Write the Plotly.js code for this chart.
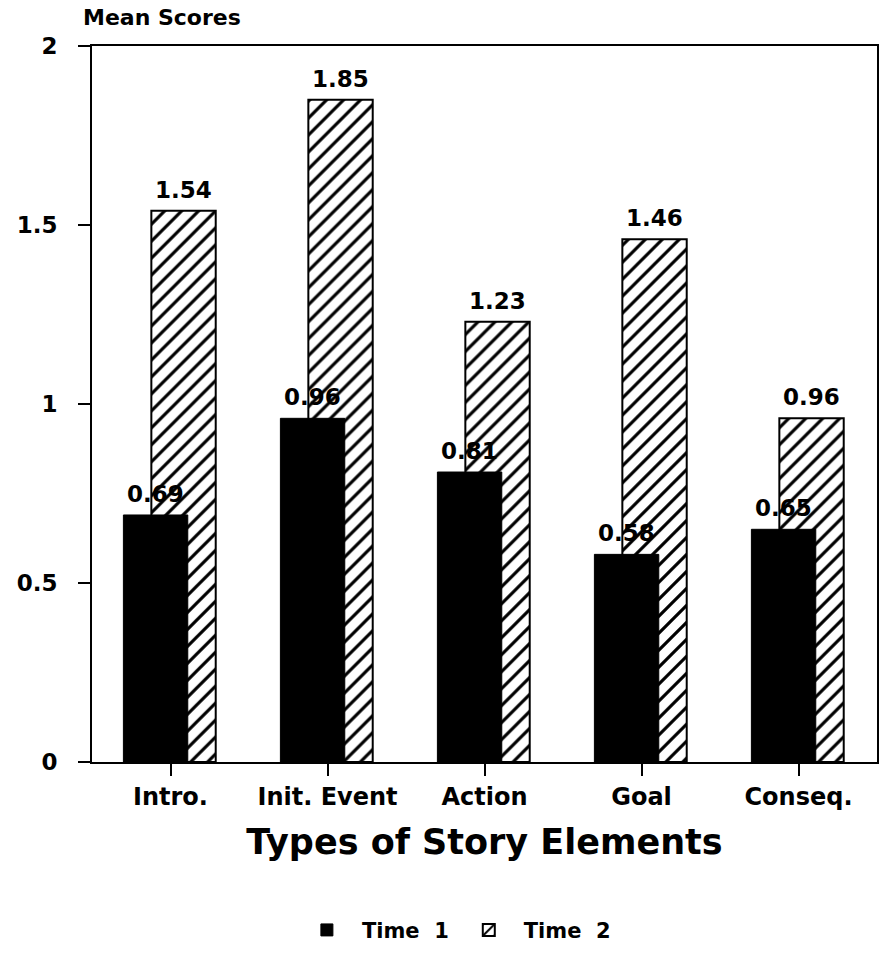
<!DOCTYPE html>
<html>
<head>
<meta charset="utf-8">
<script src="https://cdn.plot.ly/plotly-3.0.1.min.js"></script>
<style>html,body{margin:0;padding:0;background:#fff;}#chart{width:890px;height:963px;}</style>
</head>
<body>
<div id="chart"></div>
<script>
const categories = ["Intro.", "Init. Event", "Action", "Goal", "Conseq."];
const time1 = [0.69, 0.96, 0.81, 0.58, 0.65];
const time2 = [1.54, 1.85, 1.23, 1.46, 0.96];
const time1Labels = ["0.69", "0.96", "0.81", "0.58", "0.65"];
const time2Labels = ["1.54", "1.85", "1.23", "1.46", "0.96"];
const yTickVals = [0, 0.5, 1, 1.5, 2];
const yTickText = ["0", "0.5", "1", "1.5", "2"];

const FONT = "DejaVu Sans, Liberation Sans, Arial, sans-serif";
const W = 0.41, OFF1 = -0.30, OFF2 = -0.122;

const traceT2 = {
  type: "bar", name: "Time  2", x: categories, y: time2,
  width: W, offset: OFF2, legendrank: 2,
  marker: {color: "#ffffff", line: {color: "#000", width: 2},
    pattern: {shape: "/", fgcolor: "#000", bgcolor: "#fff", size: 12, solidity: 0.26}},
  hoverinfo: "skip"
};
const traceT1 = {
  type: "bar", name: "Time  1", x: categories, y: time1,
  width: W, offset: OFF1, legendrank: 1,
  marker: {color: "#000", line: {color: "#000", width: 1}},
  hoverinfo: "skip"
};

const annotations = [];
categories.forEach((c, i) => {
  annotations.push({x: c, y: time1[i], xref: "x", yref: "y", text: "<b>" + time1Labels[i] + "</b>",
    showarrow: false, yanchor: "bottom", yshift: 6, xshift: (OFF1 + W / 2) * 157,
    font: {family: FONT, size: 23, color: "#000"}});
  annotations.push({x: c, y: time2[i], xref: "x", yref: "y", text: "<b>" + time2Labels[i] + "</b>",
    showarrow: false, yanchor: "bottom", yshift: 6, xshift: (OFF2 + W / 2) * 157,
    font: {family: FONT, size: 23, color: "#000"}});
});
annotations.push({x: 0, y: 1, xref: "paper", yref: "paper", xanchor: "left", yanchor: "bottom",
  xshift: -11, yshift: 14, text: "<b>Mean Scores</b>", showarrow: false,
  font: {family: FONT, size: 22, color: "#000"}});

const layout = {
  width: 890, height: 963,
  margin: {l: 92, r: 13, t: 46, b: 201},
  paper_bgcolor: "#fff", plot_bgcolor: "#fff",
  barmode: "overlay", showlegend: true,
  font: {family: FONT, color: "#000"},
  xaxis: {
    type: "category", range: [-0.5, 4.5],
    showline: true, linecolor: "#000", linewidth: 2, mirror: true,
    ticks: "outside", ticklen: 12, tickwidth: 2, tickcolor: "#000",
    showgrid: false, zeroline: false,
    tickfont: {family: FONT, size: 24, color: "#000", weight: "bold"},
    title: {text: "<b>Types of Story Elements</b>", standoff: 20,
      font: {family: FONT, size: 35, color: "#000"}}
  },
  yaxis: {
    range: [0, 2], tickvals: yTickVals, ticktext: yTickText,
    showline: true, linecolor: "#000", linewidth: 2, mirror: true,
    ticks: "outside", ticklen: 12, tickwidth: 2, tickcolor: "#000",
    ticklabelstandoff: 16,
    showgrid: false, zeroline: false,
    tickfont: {family: FONT, size: 23, color: "#000", weight: "bold"}
  },
  legend: {
    orientation: "h", xref: "container", yref: "container",
    x: 0.51, xanchor: "center", y: 0.034, yanchor: "middle",
    itemwidth: 60, traceorder: "normal",
    font: {family: FONT, size: 21, color: "#000", weight: "bold"}
  },
  annotations: annotations
};

Plotly.newPlot("chart", [traceT2, traceT1], layout, {staticPlot: true, displayModeBar: false});
</script>
</body>
</html>
